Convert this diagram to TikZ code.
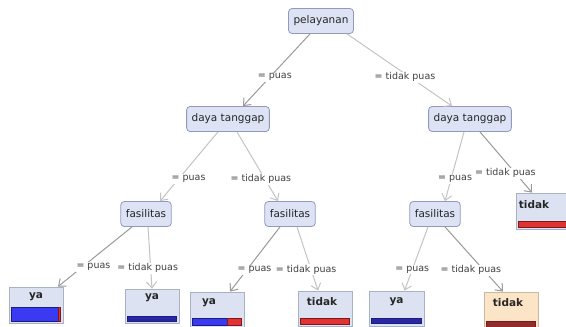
\documentclass[tikz,border=0pt]{standalone}
\usepackage{fontspec}
\setmainfont{DejaVu Sans}
\usetikzlibrary{arrows.meta,calc}
\definecolor{nodefill}{HTML}{DDE3F4}
\definecolor{nodedraw}{HTML}{9199BD}
\definecolor{leaffill}{HTML}{DCE2F2}
\definecolor{leafdraw}{HTML}{A9B1C4}
\definecolor{orangefill}{HTML}{FCE4C6}
\definecolor{orangedraw}{HTML}{C8B8A4}
\definecolor{edgedark}{HTML}{9A9A9A}
\definecolor{edgelight}{HTML}{C4C4C4}
\definecolor{barblue}{HTML}{3A3AF2}
\definecolor{barblueedge}{HTML}{1C1C7A}
\definecolor{barnavy}{HTML}{2828A6}
\definecolor{barred}{HTML}{E23232}
\definecolor{barrededge}{HTML}{7A1A1A}
\definecolor{bardarkred}{HTML}{902C2C}
\begin{document}
\begin{tikzpicture}[x=1pt,y=-1pt,
  inner/.style={draw=nodedraw, fill=nodefill, rounded corners=3.5pt, line width=0.8pt,
    minimum height=25pt, inner xsep=5pt, font=\fontsize{10.5}{12}\selectfont, text=black!85},
  leaf/.style={draw=leafdraw, fill=leaffill, line width=0.8pt, minimum width=54pt, minimum height=35pt},
  leaftext/.style={inner sep=0pt, font=\bfseries\fontsize{10.5}{12}\selectfont, text=black!85},
  edgeD/.style={draw=edgedark, line width=1pt, -{Straight Barb[length=6pt,width=10pt]}},
  edgeL/.style={draw=edgelight, line width=1pt, -{Straight Barb[length=6pt,width=10pt]}},
  elabel/.style={fill=white, inner sep=1pt, font=\fontsize{9.5}{11}\selectfont, text=black!75},
]
\useasboundingbox[fill=white] (0,0) rectangle (566,327);

% internal nodes
\node[inner] (pel) at (321,21) {pelayanan};
\node[inner] (dtL) at (228,119) {daya tanggap};
\node[inner] (dtR) at (470,119) {daya tanggap};
\node[inner] (fL1) at (146,214) {fasilitas};
\node[inner] (fL2) at (290,214) {fasilitas};
\node[inner] (fR)  at (435,214) {fasilitas};

% leaves
\node[leaf, minimum height=36pt] (l1) at (36,305) {};
\node[leaf, minimum height=34pt] (l2) at (152,306) {};
\node[leaf, minimum height=36pt] (l3) at (217,310) {};
\node[leaf] (l4) at (325,308.5) {};
\node[leaf, minimum width=55pt] (l5) at (396.5,308.5) {};
\node[leaf, draw=orangedraw, fill=orangefill, minimum height=36pt] (l6) at (511,310) {};
\node[leaf, minimum height=36pt] (tR) at (543,211) {};

\node[leaftext] (l1t) at ($(l1.north)+(0,10)$) {ya};
\node[leaftext] (l2t) at ($(l2.north)+(0,9)$) {ya};
\node[leaftext] (l3t) at ($(l3.north)+(-8,11)$) {ya};
\node[leaftext] (l4t) at ($(l4.north)+(-3,11)$) {tidak};
\node[leaftext] (l5t) at ($(l5.north)+(0,11)$) {ya};
\node[leaftext] (l6t) at ($(l6.north)+(-3,11)$) {tidak};
\node[leaftext] (tRt) at ($(tR.north)+(-9,12)$) {tidak};

% bars
\draw[draw=barblueedge, fill=barblue, line width=0.8pt] ($(l1.south west)+(3,-2)$) rectangle ($(l1.south east)+(-5,-16)$);
\draw[draw=barrededge, fill=barred, line width=0.5pt] ($(l1.south east)+(-5,-2)$) rectangle ($(l1.south east)+(-3,-16)$);
\draw[draw=barblueedge, fill=barnavy, line width=0.8pt] ($(l2.south west)+(3,-2)$) rectangle ($(l2.south east)+(-3,-7)$);
\draw[draw=barblueedge, fill=barblue, line width=0.8pt] ($(l3.south west)+(3,-3)$) rectangle ($(l3.south west)+(38,-10)$);
\draw[draw=barrededge, fill=barred, line width=0.8pt] ($(l3.south west)+(38,-3)$) rectangle ($(l3.south east)+(-3,-10)$);
\draw[draw=barrededge, fill=barred, line width=0.8pt] ($(l4.south west)+(3,-2)$) rectangle ($(l4.south east)+(-3,-8)$);
\draw[draw=barblueedge, fill=barnavy, line width=0.8pt] ($(l5.south west)+(3,-3)$) rectangle ($(l5.south east)+(-3,-8)$);
\draw[draw=barrededge, fill=bardarkred, line width=0.8pt] ($(l6.south west)+(3,-1)$) rectangle ($(l6.south east)+(-3,-7)$);
\draw[draw=barrededge, fill=barred, line width=0.8pt] ($(tR.south west)+(3,-2)$) rectangle ($(tR.south east)+(-3,-8)$);

% edges
\draw[edgeD] ($(pel.south)+(-11,0)$) -- node[elabel, pos=0.6, xshift=5] (e1) {= puas} ($(dtL.north)+(15,0)$);
\draw[edgeL] ($(pel.south)+(26,0)$) -- node[elabel, pos=0.6, xshift=-5] (e2) {= tidak puas} ($(dtR.north)+(-18,0)$);
\draw[edgeL] ($(dtL.south)+(-10,0)$) -- node[elabel, pos=0.68, xshift=10] (e3) {= puas} ($(fL1.north)+(14,0)$);
\draw[edgeL] ($(dtL.south)+(9,0)$) -- node[elabel, pos=0.68, xshift=-4] (e4) {= tidak puas} ($(fL2.north)+(-12,0)$);
\draw[edgeL] ($(dtR.south)+(-6,0)$) -- node[elabel, pos=0.68, xshift=4] (e5) {= puas} ($(fR.north)+(10,0)$);
\draw[edgeD] ($(dtR.south)+(10,0)$) -- node[elabel, pos=0.68, xshift=-10] (e6) {= tidak puas} ($(tR.north)+(-11,0)$);
\draw[edgeD] ($(fL1.south)+(-14,0)$) -- node[elabel, pos=0.67, xshift=11] (e7) {= puas} ($(l1.north)+(22,0)$);
\draw[edgeL] ($(fL1.south)+(2,0)$) -- node[elabel, pos=0.67, xshift=-3] (e8) {= tidak puas} ($(l2.north)+(0,0)$);
\draw[edgeD] ($(fL2.south)+(-10,0)$) -- node[elabel, pos=0.67, xshift=8] (e9) {= puas} ($(l3.north)+(13,0)$);
\draw[edgeL] ($(fL2.south)+(7,0)$) -- node[elabel, pos=0.67, xshift=-5] (e10) {= tidak puas} ($(l4.north)+(-7,0)$);
\draw[edgeL] ($(fR.south)+(-7,0)$) -- node[elabel, pos=0.67, xshift=0] (e11) {= puas} ($(l5.north)+(8,0)$);
\draw[edgeD] ($(fR.south)+(10,0)$) -- node[elabel, pos=0.67, xshift=-13] (e12) {= tidak puas} ($(l6.north)+(-8,0)$);
\end{tikzpicture}
\end{document}
